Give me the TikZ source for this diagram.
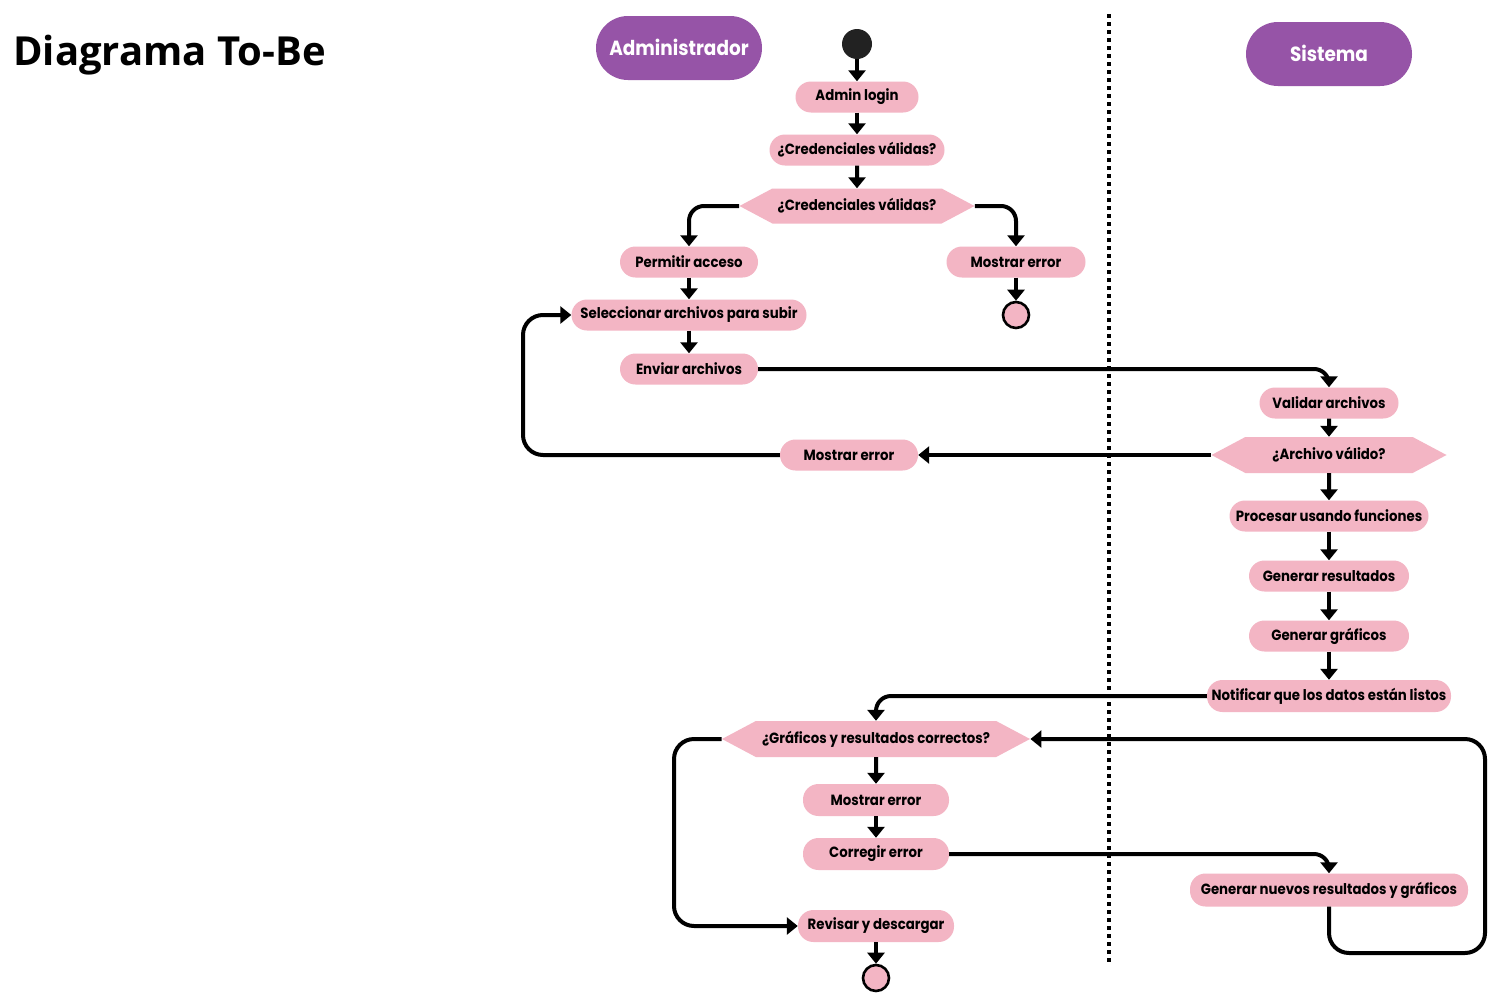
\documentclass[tikz,border=0pt]{standalone}
\usepackage{fontspec}
\setmainfont{Open Sans}
\newfontfamily\nodefont[FakeStretch=0.9]{Poppins}
\usetikzlibrary{arrows.meta,shapes.symbols,calc}
\definecolor{pinkc}{HTML}{F3B5C4}
\definecolor{purplec}{HTML}{9654A7}
\definecolor{dotc}{HTML}{222222}
\tikzset{
  act/.style={rectangle, rounded corners=15.5pt, fill=pinkc, inner sep=0pt,
    minimum height=31pt, font=\nodefont\bfseries\fontsize{14.8}{15}\selectfont, text=black},
  hexa/.style={signal, signal to=west and east, signal pointer angle=56, fill=pinkc,
    inner sep=0pt, minimum height=36pt, font=\nodefont\bfseries\fontsize{14.8}{15}\selectfont, text=black},
  lane/.style={rectangle, rounded corners=32pt, fill=purplec, minimum width=166pt,
    minimum height=64pt, inner sep=0pt, text=white, font=\nodefont\bfseries\fontsize{20.5}{20}\selectfont},
  endc/.style={circle, draw=black, line width=2.6pt, fill=pinkc, minimum size=26pt, inner sep=0pt},
  conn/.style={line width=4pt, -{Triangle[width=17pt,length=11pt]}, rounded corners=15pt},
}
\begin{document}
\begin{tikzpicture}[x=1pt,y=-1pt]
\useasboundingbox (0,0) rectangle (1499,1004);
\fill[white] (0,0) rectangle (1499,1004);

\node[anchor=base west, font=\bfseries\fontsize{40}{40}\selectfont, inner sep=0pt] (title) at (13,65) {Diagrama To-Be};

\node[lane] (admin) at (679,48) {\raisebox{2pt}{Administrador}};
\node[lane] (sistema) at (1329,54) {\raisebox{2pt}{Sistema}};

\draw[line width=4pt, dash pattern=on 4pt off 4pt] (1109,14) -- (1109,965);

\node[circle, fill=dotc, minimum size=30pt, inner sep=0pt] (start) at (857,44) {};
\node[act, minimum width=123pt] (login) at (857,97) {Admin login};
\node[act, minimum width=175pt] (cred) at (857,150) {¿Credenciales válidas?};
\node[hexa, minimum width=235pt, minimum height=35pt] (hex1) at (857,206) {¿Credenciales válidas?};
\node[act, minimum width=138pt] (permitir) at (689,262) {Permitir acceso};
\node[act, minimum width=139pt] (merr1) at (1016,262) {Mostrar error};
\node[endc] (end1) at (1016,315) {};
\node[act, minimum width=235pt] (selec) at (689,315) {Seleccionar archivos para subir};
\node[act, minimum width=138pt] (enviar) at (689,369) {Enviar archivos};
\node[act, minimum width=139pt] (validar) at (1329,403) {Validar archivos};
\node[hexa, minimum width=235pt] (hex2) at (1329,455) {¿Archivo válido?};
\node[act, minimum width=138pt] (merr2) at (849,455) {Mostrar error};
\node[act, minimum width=199pt] (procesar) at (1329,516) {Procesar usando funciones};
\node[act, minimum width=160pt] (genres) at (1329,576) {Generar resultados};
\node[act, minimum width=160pt] (gengraf) at (1329,636) {Generar gráficos};
\node[act, minimum width=244pt, minimum height=32pt] (notif) at (1329,696) {Notificar que los datos están listos};
\node[hexa, minimum width=308pt] (hex3) at (876,739) {¿Gráficos y resultados correctos?};
\node[act, minimum width=146pt, minimum height=32pt] (merr3) at (876,800) {Mostrar error};
\node[act, minimum width=146pt, minimum height=32pt] (corr) at (876,854) {Corregir error};
\node[act, minimum width=156pt, minimum height=32pt] (revisar) at (876,926) {Revisar y descargar};
\node[endc] (end2) at (876,978) {};
\node[act, minimum width=278pt, minimum height=33pt] (nuevos) at (1329,890) {Generar nuevos resultados y gráficos};

\coordinate (loopA) at (523,455);
\coordinate (loopB) at (1485,953);
\coordinate (loopC) at (674,739);

\draw[conn] (start) -- (login);
\draw[conn] (login) -- (cred);
\draw[conn] (cred) -- (hex1);
\draw[conn] (hex1.west) -| (permitir.north);
\draw[conn] (hex1.east) -| (merr1.north);
\draw[conn] (permitir) -- (selec);
\draw[conn] (merr1) -- (end1);
\draw[conn] (selec) -- (enviar);
\draw[conn] (enviar.east) -| (validar.north);
\draw[conn] (validar) -- (hex2);
\draw[conn] (hex2.west) -- (merr2.east);
\draw[conn, rounded corners=20pt] (merr2.west) -- (loopA) |- (selec.west);
\draw[conn] (hex2) -- (procesar);
\draw[conn] (procesar) -- (genres);
\draw[conn] (genres) -- (gengraf);
\draw[conn] (gengraf) -- (notif);
\draw[conn] (notif.west) -| (hex3.north);
\draw[conn] (hex3) -- (merr3);
\draw[conn] (merr3) -- (corr);
\draw[conn] (corr.east) -| (nuevos.north);
\draw[conn, rounded corners=20pt] (nuevos.south) |- (loopB) |- (hex3.east);
\draw[conn, rounded corners=20pt] (hex3.west) -- (loopC) |- (revisar.west);
\draw[conn] (revisar) -- (end2);
\end{tikzpicture}
\end{document}
